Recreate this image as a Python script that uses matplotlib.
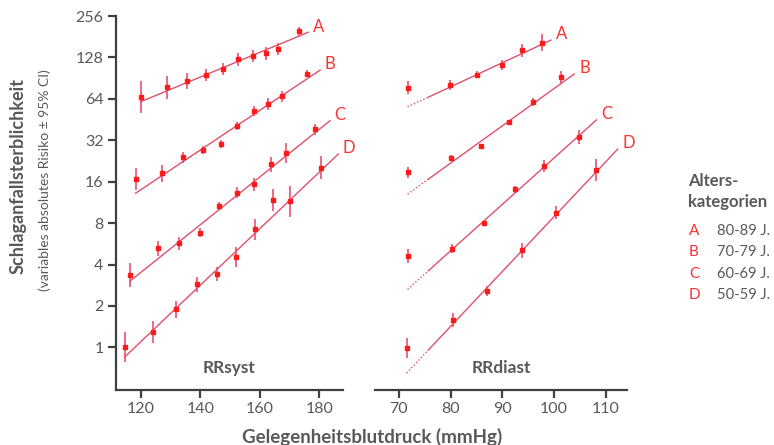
import numpy as np
import matplotlib
matplotlib.use('Agg')
import matplotlib.pyplot as plt

# ── Data ────────────────────────────────────────────────────
SERIES = ['A', 'B', 'C', 'D']
AGES = ['80-89 J.', '70-79 J.', '60-69 J.', '50-59 J.']

# systolic panel
sys_x = {
    'A': [119.9, 128.7, 135.5, 141.8, 147.5, 152.7, 157.6, 162.0, 166.0, 173.2],
    'B': [118.2, 127.2, 134.2, 140.9, 146.8, 152.4, 157.9, 162.8, 167.4, 176.0],
    'C': [116.3, 125.7, 132.9, 139.8, 146.3, 152.3, 158.0, 163.7, 168.8, 178.6],
    'D': [114.5, 124.1, 131.7, 138.9, 145.7, 152.1, 158.4, 164.4, 170.0, 180.7],
}
sys_y = {
    'A': [66, 77.6, 86.6, 95, 105, 124, 131, 137, 147, 199],
    'B': [16.7, 18.4, 24, 27.3, 30, 40.8, 52, 59, 66.6, 97.6],
    'C': [3.37, 5.24, 5.7, 6.8, 10.7, 13.3, 15.3, 21.4, 25.7, 38.4],
    'D': [1.0, 1.3, 1.89, 2.87, 3.42, 4.57, 7.2, 11.8, 11.5, 20.2],
}
# half-width of 95% CI in log2 units
sys_err = {
    'A': [0.39, 0.27, 0.20, 0.14, 0.14, 0.15, 0.14, 0.15, 0.15, 0.11],
    'B': [0.27, 0.20, 0.14, 0.10, 0.10, 0.10, 0.12, 0.14, 0.14, 0.09],
    'C': [0.29, 0.19, 0.15, 0.11, 0.10, 0.13, 0.16, 0.18, 0.24, 0.14],
    'D': [0.36, 0.27, 0.20, 0.19, 0.17, 0.24, 0.25, 0.27, 0.37, 0.28],
}
sys_fit_x = {'A': [119.9, 176.3], 'B': [118.2, 180.3], 'C': [116.3, 183.6], 'D': [114.5, 186.4]}
sys_fit_y = {'A': [61, 195], 'B': [13.2, 103.6], 'C': [3.03, 44.4], 'D': [0.85, 25.4]}

# diastolic panel
dia_x = {
    'A': [71.7, 79.9, 85.2, 89.9, 93.9, 97.6],
    'B': [71.7, 80.0, 85.9, 91.2, 96.0, 101.4],
    'C': [71.7, 80.3, 86.4, 92.4, 98.0, 104.8],
    'D': [71.6, 80.5, 87.1, 93.9, 100.3, 108.1],
}
dia_y = {
    'A': [77, 80.6, 95.8, 112.7, 144, 164],
    'B': [18.7, 23.9, 29, 43.4, 61, 91.7],
    'C': [4.62, 5.23, 7.95, 14.1, 20.9, 33.6],
    'D': [0.99, 1.58, 2.57, 5.06, 9.5, 19.4],
}
dia_err = {
    'A': [0.16, 0.13, 0.08, 0.13, 0.16, 0.21],
    'B': [0.14, 0.07, 0.05, 0.06, 0.10, 0.15],
    'C': [0.17, 0.10, 0.06, 0.08, 0.15, 0.17],
    'D': [0.25, 0.16, 0.11, 0.19, 0.16, 0.26],
}
dia_fit_x = {'A': [71.7, 99.4], 'B': [71.7, 103.9], 'C': [71.7, 108.2], 'D': [71.5, 112.3]}
dia_fit_y = {'A': [56, 171], 'B': [13, 97], 'C': [2.64, 45], 'D': [0.65, 27.6]}
DOT_END = 75.7   # dotted extrapolation below this diastolic value

YTICKS = [1, 2, 4, 8, 16, 32, 64, 128, 256]
SYS_TICKS = [120, 140, 160, 180]
DIA_TICKS = [70, 80, 90, 100, 110]

# ── Style ───────────────────────────────────────────────────
plt.rcParams['font.family'] = ['Lato', 'DejaVu Sans']
RED = '#ff1a1a'
BAR = '#e8506e'
LINE = '#e0506e'
LBL = '#ff3030'
GRAY = '#595959'
SPINE = '#404040'


def fit_at(xs, ys, x):
    t = (x - xs[0]) / (xs[1] - xs[0])
    return 2 ** (np.log2(ys[0]) + t * (np.log2(ys[1]) - np.log2(ys[0])))


def draw(ax, X, Y, E, FX, FY, dotted):
    span = ax.get_xlim()[1] - ax.get_xlim()[0]
    for s in SERIES:
        x = np.array(X[s]); y = np.array(Y[s]); e = np.array(E[s])
        lo = y - y * 2 ** (-e); hi = y * 2 ** e - y
        fx, fy = FX[s], FY[s]
        if dotted:
            ym = fit_at(fx, fy, DOT_END)
            ax.plot([fx[0], DOT_END], [fy[0], ym], ls=(0, (1, 1.5)), color=LINE, lw=1)
            ax.plot([DOT_END, fx[1]], [ym, fy[1]], color=LINE, lw=1)
        else:
            ax.plot(fx, fy, color=LINE, lw=1)
        ax.errorbar(x, y, yerr=[lo, hi], fmt='s', color=RED, ms=3.2,
                    ecolor=BAR, elinewidth=1.2, capsize=0, zorder=3)
        ax.text(fx[1] + 0.02 * span, fy[1] * 1.1, s,
                color=LBL, fontsize=12, ha='left', va='center')


fig = plt.figure(figsize=(7.74, 4.45), dpi=100)
axL = fig.add_axes([0.1499, 0.1236, 0.2933, 0.8404])
axR = fig.add_axes([0.4845, 0.1236, 0.3256, 0.8404])

for ax, xl in [(axL, (111.6, 188.0)), (axR, (65.4, 114.1))]:
    ax.set_yscale('log', base=2)
    ax.set_ylim(0.49, 256)
    ax.set_xlim(*xl)
    for sp in ['top', 'right']:
        ax.spines[sp].set_visible(False)
    ax.spines['bottom'].set_color(SPINE); ax.spines['bottom'].set_linewidth(1.6)
    ax.tick_params(axis='x', colors=SPINE, labelcolor=GRAY, labelsize=11.5,
                   length=6, width=1.6, direction='out', pad=3)

draw(axL, sys_x, sys_y, sys_err, sys_fit_x, sys_fit_y, False)
draw(axR, dia_x, dia_y, dia_err, dia_fit_x, dia_fit_y, True)

axL.set_xticks(SYS_TICKS)
axR.set_xticks(DIA_TICKS)
axL.set_yticks(YTICKS)
axL.set_yticklabels([str(v) for v in YTICKS])
axL.minorticks_off(); axR.minorticks_off()
axL.spines['left'].set_color(SPINE); axL.spines['left'].set_linewidth(1.6)
axL.tick_params(axis='y', colors=SPINE, labelcolor=GRAY, labelsize=11.5,
                length=6, width=1.6, direction='out', pad=3)
axR.spines['left'].set_visible(False)
axR.set_yticks([])

axL.text(0.5, 0.06, 'RRsyst', transform=axL.transAxes, ha='center', va='center',
         fontsize=12.5, fontweight='bold', color=GRAY)
axR.text(0.5, 0.06, 'RRdiast', transform=axR.transAxes, ha='center', va='center',
         fontsize=12.5, fontweight='bold', color=GRAY)

fig.text(372 / 774, 1 - 437 / 445, 'Gelegenheitsblutdruck (mmHg)', ha='center', va='center',
         fontsize=13.5, fontweight='bold', color=GRAY)
fig.text(18 / 774, 1 - 176 / 445, 'Schlaganfallsterblichkeit', rotation=90, ha='center',
         va='center', fontsize=13, fontweight='bold', color=GRAY)
fig.text(45 / 774, 1 - 180 / 445, '(variables absolutes Risiko ± 95% CI)', rotation=90,
         ha='center', va='center', fontsize=10, color=GRAY)

# legend block
fig.text(688 / 774, 1 - 181 / 445, 'Alters-', ha='left', va='center',
         fontsize=12, fontweight='bold', color=GRAY)
fig.text(688 / 774, 1 - 202 / 445, 'kategorien', ha='left', va='center',
         fontsize=12, fontweight='bold', color=GRAY)
for i, (s, a) in enumerate(zip(SERIES, AGES)):
    yy = 1 - (231 + i * 21.4) / 445
    fig.text(689 / 774, yy, s, ha='left', va='center', fontsize=11, color=LBL)
    fig.text(717 / 774, yy, a, ha='left', va='center', fontsize=10.6, color=GRAY)

fig.savefig('out.png', dpi=100, facecolor='white')
